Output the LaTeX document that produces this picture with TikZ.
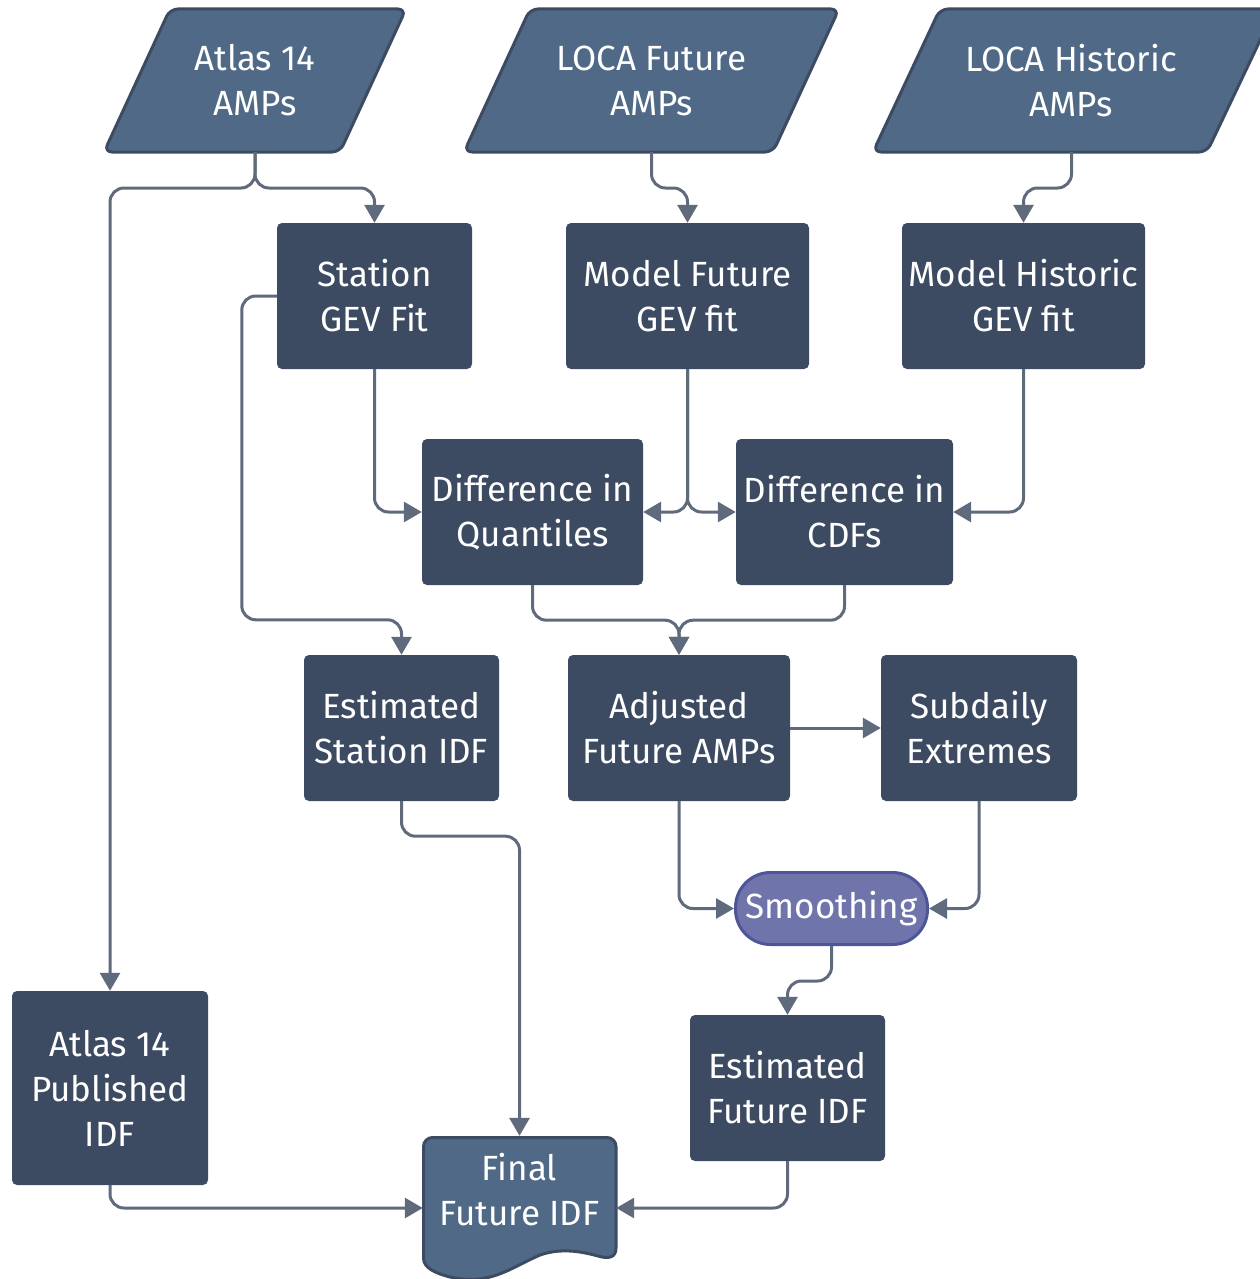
\documentclass[tikz,border=0pt]{standalone}
\usepackage{fontspec}
\setmainfont{Fira Sans}
\usetikzlibrary{arrows.meta,calc}
\definecolor{navy}{HTML}{3D4B62}
\definecolor{slate}{HTML}{4F6986}
\definecolor{conn}{HTML}{5F6A7D}
\definecolor{purp}{HTML}{6F74AB}
\definecolor{purpd}{HTML}{4E5598}
\tikzset{
  boxnode/.style={fill=navy, rounded corners=5pt, text=white, align=center, inner sep=0pt,
    minimum width=#1, minimum height=146pt, font=\fontsize{35}{45}\selectfont},
  txtnode/.style={text=white, align=center, inner sep=0pt, font=\fontsize{35}{45}\selectfont},
  shapeline/.style={fill=slate, draw=navy, line width=3pt, rounded corners=8pt, line join=round},
  link/.style={draw=conn, line width=3pt, rounded corners=14pt, -{Triangle[length=18pt,width=20pt]}},
}
\begin{document}
\begin{tikzpicture}[x=1pt,y=-1pt]
\useasboundingbox (0,0) rectangle (1259,1279);
% parallelograms
\path[shapeline] (170,9) -- (406,9) -- (340,152) -- (104,152) -- cycle;
\node[txtnode] (atlas) at (255,80.5) {Atlas 14\\AMPs};
\path[shapeline] (530,9) -- (839,9) -- (773,152) -- (464,152) -- cycle;
\node[txtnode] (locaf) at (651.5,80.5) {LOCA Future\\AMPs};
\path[shapeline] (940,9) -- (1275,9) -- (1207,152) -- (873,152) -- cycle;
\node[txtnode] (locah) at (1071,80.5) {LOCA Historic\\AMPs};
\coordinate (atlasS) at (255,152);
\coordinate (locafS) at (651.5,152);
\coordinate (locahS) at (1071.5,152);
% boxes
\node[boxnode=195pt] (station) at (374.5,296) {Station\\GEV Fit};
\node[boxnode=243pt] (mfut) at (687.5,296) {Model Future\\GEV fit};
\node[boxnode=243pt] (mhist) at (1023.5,296) {Model Historic\\GEV fit};
\node[boxnode=221pt] (dq) at (532.5,512) {Difference in\\Quantiles};
\node[boxnode=217pt] (dc) at (844.5,512) {Difference in\\CDFs};
\node[boxnode=195pt] (estst) at (401.5,728) {Estimated\\Station IDF};
\node[boxnode=222pt] (adj) at (679,728) {Adjusted\\Future AMPs};
\node[boxnode=196pt] (sub) at (979,728) {Subdaily\\Extremes};
\node[fill=purp, draw=purpd, line width=3pt, rounded corners=35pt, text=white, inner sep=0pt,
  minimum width=192pt, minimum height=72pt, font=\fontsize{35}{45}\selectfont] (smooth) at (831.5,908.5) {Smoothing};
\node[boxnode=195pt] (estfut) at (787.5,1088) {Estimated\\Future IDF};
\node[boxnode=196pt, minimum height=194pt] (pub) at (110,1088) {Atlas 14\\Published\\IDF};
% document shape
\path[fill=slate, draw=navy, line width=3pt, line join=round]
  (423.5,1258) -- (423.5,1146) [rounded corners=9pt] -- (423.5,1137.5) -- (616,1137.5) [sharp corners] -- (616,1147)
  -- (616,1248) .. controls (616,1258) and (608,1259) .. (598,1256)
  .. controls (580,1251) and (560,1248) .. (540,1255)
  .. controls (510,1268) and (490,1286) .. (450,1277)
  .. controls (435,1273) and (423.5,1268) .. (423.5,1258) -- cycle;
\node[txtnode, minimum width=193pt, minimum height=108pt] (final) at (519.5,1190) {Final\\Future IDF};
% connectors
\draw[link] (atlasS) -- ++(0,36) -| (station.north);
\draw[link] (atlasS) -- ++(0,36) -| (pub.north);
\draw[link] (locafS) -- ++(0,36) -| (mfut.north);
\draw[link] (locahS) -- ++(0,36) -| (mhist.north);
\draw[link] (station.west) -- ++(-35,0) |- ($(estst.north)+(0,-35)$) -- (estst.north);
\draw[link] (station.south) |- (dq.west);
\draw[link] (mfut.south) |- (dq.east);
\draw[link] (mfut.south) |- (dc.west);
\draw[link] (mhist.south) |- (dc.east);
\draw[link] (dq.south) -- ++(0,35) -| (adj.north);
\draw[link] (dc.south) -- ++(0,35) -| (adj.north);
\draw[link] (adj.east) -- (sub.west);
\draw[link] (adj.south) |- (smooth.west);
\draw[link] (sub.south) |- (smooth.east);
\draw[link] (smooth.south) -- ++(0,35) -| (estfut.north);
\draw[link] (estst.south) -- ++(0,35) -| (final.north);
\draw[link] (pub.south) |- ([yshift=-18pt]final.west);
\draw[link] (estfut.south) |- ([yshift=-18pt]final.east);
\end{tikzpicture}
\end{document}
